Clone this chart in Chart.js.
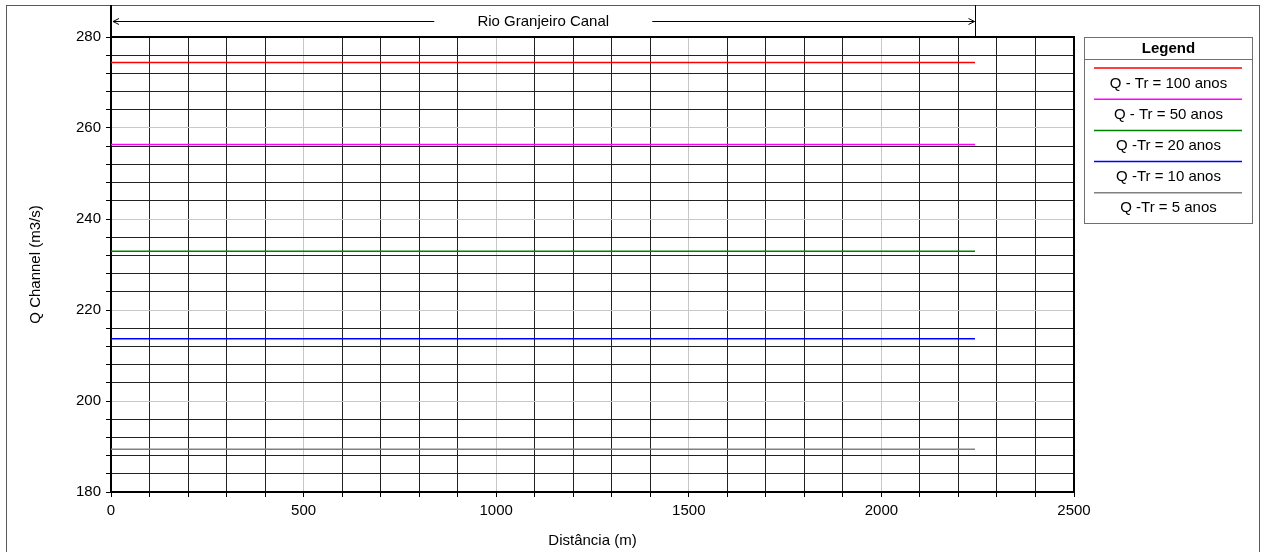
<!DOCTYPE html>
<html>
<head>
<meta charset="utf-8">
<script src="https://cdn.jsdelivr.net/npm/chart.js@4.4.1/dist/chart.umd.min.js"></script>
<style>
    html, body { margin: 0; padding: 0; background: #fff; }
    #wrap { width: 1267px; height: 552px; }
</style>
</head>
<body>
<div id="wrap"><canvas id="qChart" width="1267" height="552"></canvas></div>
<script>
// stations along the canal (m) - lines run from start to end of the reach
const stations = [0, 2243];
const seriesLabels = ['Q - Tr = 100 anos', 'Q - Tr = 50 anos', 'Q -Tr = 20 anos', 'Q -Tr = 10 anos', 'Q -Tr = 5 anos'];
const q100 = [274.4, 274.4];
const q50 = [256.4, 256.4];
const q20 = [232.9, 232.9];
const q10 = [213.7, 213.7];
const q5 = [189.4, 189.4];
const seriesColors = ['#ff0000', '#ff00ff', '#008000', '#0000ff', '#808080'];
const reachLabel = 'Rio Granjeiro Canal';
const reachEnd = 2243;

const FONT = "'Liberation Sans', Arial, sans-serif";
const allSeries = [q100, q50, q20, q10, q5];

const datasets = allSeries.map((vals, i) => ({
    label: seriesLabels[i],
    data: stations.map((x, j) => ({ x: x, y: vals[j] })),
    borderColor: seriesColors[i],
    backgroundColor: seriesColors[i],
    borderWidth: 1.5,
    pointRadius: 0,
    fill: false
}));

// frame, reach arrow and the boxed legend on the right
const decorations = {
    id: 'decorations',
    afterDraw: (chart) => {
        const ctx = chart.ctx;
        const area = chart.chartArea;
        const xs = chart.scales.x;
        ctx.save();

        // outer border
        ctx.strokeStyle = '#5a5a5a';
        ctx.lineWidth = 1;
        ctx.strokeRect(6.5, 5.5, 1253, 560);

        // plot frame (top/right)
        ctx.strokeStyle = '#000';
        ctx.lineWidth = 2;
        ctx.beginPath();
        ctx.moveTo(area.left, area.top);
        ctx.lineTo(area.right, area.top);
        ctx.lineTo(area.right, area.bottom);
        ctx.stroke();
        ctx.beginPath();
        ctx.moveTo(area.left, 5);
        ctx.lineTo(area.left, area.top);
        ctx.stroke();

        // reach arrow
        const xEnd = Math.round(xs.getPixelForValue(reachEnd)) + 0.5;
        const yArr = 21.5;
        ctx.lineWidth = 1;
        ctx.beginPath();
        ctx.moveTo(xEnd, 5);
        ctx.lineTo(xEnd, area.top);
        ctx.stroke();
        const mid = (area.left + xEnd) / 2;
        ctx.font = '15px ' + FONT;
        ctx.fillStyle = '#000';
        ctx.textAlign = 'center';
        ctx.textBaseline = 'middle';
        ctx.fillText(reachLabel, mid, yArr);
        const gap = 109;
        ctx.beginPath();
        ctx.moveTo(area.left + 2, yArr);
        ctx.lineTo(mid - gap, yArr);
        ctx.moveTo(mid + gap, yArr);
        ctx.lineTo(xEnd - 1, yArr);
        // arrow heads
        ctx.moveTo(area.left + 8, yArr - 3);
        ctx.lineTo(area.left + 2, yArr);
        ctx.lineTo(area.left + 8, yArr + 3);
        ctx.moveTo(xEnd - 7, yArr - 3);
        ctx.lineTo(xEnd - 1, yArr);
        ctx.lineTo(xEnd - 7, yArr + 3);
        ctx.stroke();

        // legend box
        const lx = 1084.5, ly = 37.5, lw = 168, lh = 186;
        ctx.strokeStyle = '#707070';
        ctx.strokeRect(lx, ly, lw, lh);
        ctx.beginPath();
        ctx.moveTo(lx, 59.5);
        ctx.lineTo(lx + lw, 59.5);
        ctx.stroke();
        ctx.fillStyle = '#000';
        ctx.font = 'bold 15px ' + FONT;
        ctx.fillText('Legend', lx + lw / 2, 49);
        ctx.font = '15px ' + FONT;
        chart.data.datasets.forEach((ds, i) => {
            const yl = 68 + i * 31.2;
            ctx.strokeStyle = ds.borderColor;
            ctx.lineWidth = 1.5;
            ctx.beginPath();
            ctx.moveTo(1094, yl);
            ctx.lineTo(1242, yl);
            ctx.stroke();
            ctx.fillText(ds.label, lx + lw / 2, yl + 15.5);
        });
        ctx.restore();
    }
};

new Chart(document.getElementById('qChart').getContext('2d'), {
    type: 'line',
    data: { datasets: datasets },
    options: {
        responsive: false,
        animation: false,
        layout: { padding: { top: 37, right: 193, left: 0, bottom: 0 } },
        plugins: {
            legend: { display: false },
            tooltip: { enabled: false }
        },
        scales: {
            x: {
                type: 'linear',
                min: 0,
                max: 2500,
                afterFit: (s) => { s.height = 60; },
                ticks: {
                    stepSize: 100,
                    autoSkip: false,
                    maxRotation: 0,
                    padding: 5,
                    color: '#000',
                    font: { family: FONT, size: 15 },
                    callback: (v) => (v % 500 === 0 ? String(v) : '')
                },
                grid: {
                    color: (c) => (c.tick && c.tick.value % 500 === 0 ? '#c8c8c8' : '#222'),
                    lineWidth: 1,
                    tickLength: 5,
                    tickColor: '#000'
                },
                border: { color: '#000', width: 2 },
                title: {
                    display: true,
                    text: 'Distância (m)',
                    color: '#000',
                    font: { family: FONT, size: 15 },
                    padding: { top: 0, bottom: 2 }
                }
            },
            y: {
                min: 180,
                max: 280,
                afterFit: (s) => { s.width = 111; },
                ticks: {
                    stepSize: 4,
                    autoSkip: false,
                    padding: 5,
                    color: '#000',
                    font: { family: FONT, size: 15 },
                    callback: (v) => (v % 20 === 0 ? String(v) : '')
                },
                grid: {
                    color: (c) => (c.tick && c.tick.value % 20 === 0 ? '#c8c8c8' : '#222'),
                    lineWidth: 1,
                    tickLength: 5,
                    tickColor: '#000'
                },
                border: { color: '#000', width: 2 },
                title: {
                    display: true,
                    text: 'Q Channel (m3/s)',
                    color: '#000',
                    font: { family: FONT, size: 15 },
                    padding: { top: 27, bottom: 0 }
                }
            }
        }
    },
    plugins: [decorations]
});
</script>
</body>
</html>
